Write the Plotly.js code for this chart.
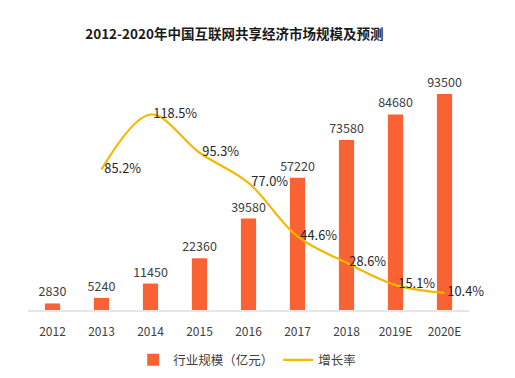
<!DOCTYPE html>
<html>
<head>
<meta charset="utf-8">
<script src="https://cdn.plot.ly/plotly-3.0.1.min.js"></script>
<style>
  html, body { margin: 0; padding: 0; background: #fff; }
  #chart { width: 515px; height: 378px; }
</style>
</head>
<body>
<div id="chart"></div>
<script>
// 2012-2020 sharing-economy market size (亿元) and yearly growth rate (%)
const years = ['2012', '2013', '2014', '2015', '2016', '2017', '2018', '2019E', '2020E'];
const marketSize = [2830, 5240, 11450, 22360, 39580, 57220, 73580, 84680, 93500];
const growthYears = ['2013', '2014', '2015', '2016', '2017', '2018', '2019E', '2020E'];
const growthRate = [85.2, 118.5, 95.3, 77.0, 44.6, 28.6, 15.1, 10.4];

const FONT = '"Noto Sans CJK SC", "Noto Sans", sans-serif';

const bars = {
  type: 'bar',
  name: '行业规模（亿元）',
  x: years,
  y: marketSize,
  width: 0.31,
  marker: { color: '#F96232' },
  text: marketSize.map(v => String(v)),
  textposition: 'outside',
  constraintext: 'none',
  textfont: { family: FONT, size: 12.5, color: '#404040' },
  cliponaxis: false,
  hoverinfo: 'x+y'
};

const growth = {
  type: 'scatter',
  mode: 'lines+text',
  name: '增长率',
  x: growthYears,
  y: growthRate,
  yaxis: 'y2',
  line: { color: '#F5B800', width: 2.2, shape: 'spline', smoothing: 1 },
  text: growthRate.map(v => ' ' + v.toFixed(1) + '%'),
  textposition: 'middle right',
  textfont: { family: FONT, size: 12.8, color: '#262626' },
  cliponaxis: false
};

const layout = {
  width: 515,
  height: 378,
  margin: { l: 28, r: 46, t: 79, b: 68, autoexpand: false },
  paper_bgcolor: '#ffffff',
  plot_bgcolor: '#ffffff',
  font: { family: FONT, color: '#404040' },
  title: {
    text: '<b>2012-2020年中国互联网共享经济市场规模及预测</b>',
    font: { family: FONT, size: 13.5, color: '#1a1a1a' },
    x: 0.455, xanchor: 'center',
    y: 0.91, yanchor: 'middle'
  },
  showlegend: true,
  legend: {
    orientation: 'h',
    xref: 'container', yref: 'container',
    x: 0.48, xanchor: 'center',
    y: 0.047, yanchor: 'middle',
    font: { family: FONT, size: 12.5, color: '#404040' },
    itemwidth: 30,
    tracegroupgap: 0
  },
  xaxis: {
    type: 'category',
    range: [-0.5, 8.5],
    automargin: false,
    showline: true,
    linecolor: '#e6e6e6',
    linewidth: 1.5,
    showgrid: false,
    ticks: '',
    tickfont: { family: FONT, size: 12, color: '#404040' },
    ticklabelstandoff: 10
  },
  yaxis: {
    range: [0, 100000],
    visible: false,
    showgrid: false,
    zeroline: false
  },
  yaxis2: {
    range: [0, 140],
    overlaying: 'y',
    side: 'right',
    visible: false,
    showgrid: false,
    zeroline: false
  },
  bargap: 0.69
};

Plotly.newPlot('chart', [bars, growth], layout, { displayModeBar: false, staticPlot: true });
</script>
</body>
</html>
